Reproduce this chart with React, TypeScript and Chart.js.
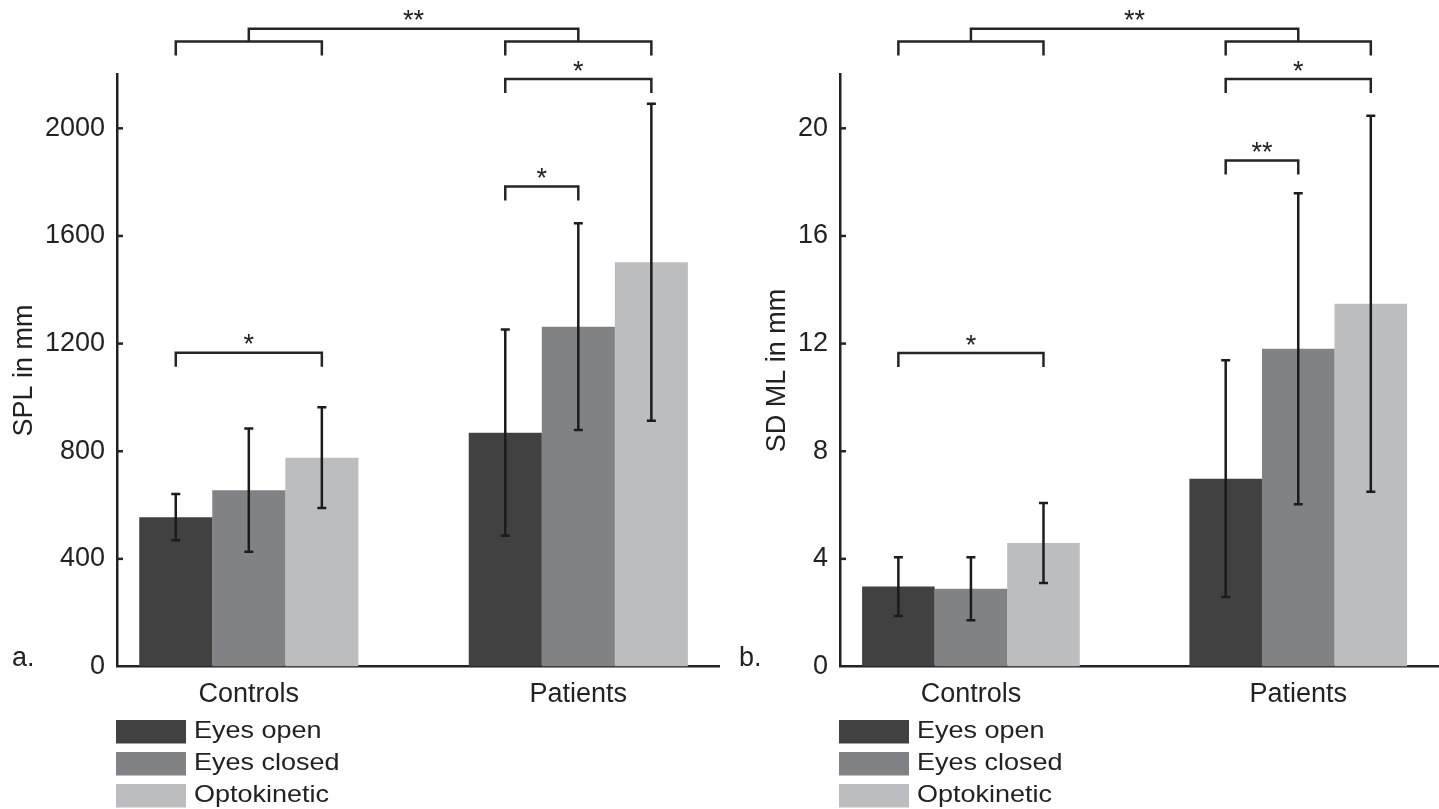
import React, { useEffect, useRef } from 'react';
import { Chart, registerables } from 'chart.js';

Chart.register(...registerables);

const FONT = "'Liberation Sans', Arial, Helvetica, sans-serif";
const INK = '#222222';

const categories = ['Controls', 'Patients'];
const seriesNames = ['Eyes open', 'Eyes closed', 'Optokinetic'];
const seriesColors = ['#414141', '#818285', '#bcbdc0'];

// Panel a: SPL in mm
const splEyesOpen = [555, 869];
const splEyesClosed = [655, 1263];
const splOptokinetic = [776, 1502];
const splErrEyesOpen = [86, 383];
const splErrEyesClosed = [229, 384];
const splErrOptokinetic = [187, 589];
const splTicks = [0, 400, 800, 1200, 1600, 2000];
// significance brackets: group, series from, series to, level (data units), label
const splBrackets = [
  { g: 0, s1: 0, s2: 2, level: 1166, label: '*' },
  { g: 1, s1: 0, s2: 1, level: 1784, label: '*' },
  { g: 1, s1: 0, s2: 2, level: 2183, label: '*' },
];
const splGroupBracket = { sub: 2323, top: 2370, label: '**' };

// Panel b: SD ML in mm
const sdEyesOpen = [2.97, 6.98];
const sdEyesClosed = [2.89, 11.81];
const sdOptokinetic = [4.59, 13.48];
const sdErrEyesOpen = [1.09, 4.4];
const sdErrEyesClosed = [1.17, 5.78];
const sdErrOptokinetic = [1.49, 6.99];
const sdTicks = [0, 4, 8, 12, 16, 20];
const sdBrackets = [
  { g: 0, s1: 0, s2: 2, level: 11.65, label: '*' },
  { g: 1, s1: 0, s2: 1, level: 18.8, label: '**' },
  { g: 1, s1: 0, s2: 2, level: 21.83, label: '*' },
];
const sdGroupBracket = { sub: 23.23, top: 23.7, label: '**' };

type Bracket = { g: number; s1: number; s2: number; level: number; label: string };
type Panel = {
  letter: string;
  yTitle: string;
  yMax: number;
  ticks: number[];
  means: number[][];
  errs: number[][];
  brackets: Bracket[];
  groupBracket: { sub: number; top: number; label: string };
  axisWidth: number;
  titlePad: number;
  letterX: number;
};

const panelA: Panel = {
  letter: 'a.',
  yTitle: 'SPL in mm',
  yMax: 2200,
  ticks: splTicks,
  means: [splEyesOpen, splEyesClosed, splOptokinetic],
  errs: [splErrEyesOpen, splErrEyesClosed, splErrOptokinetic],
  brackets: splBrackets,
  groupBracket: splGroupBracket,
  axisWidth: 117,
  titlePad: 8,
  letterX: 12,
};

const panelB: Panel = {
  letter: 'b.',
  yTitle: 'SD ML in mm',
  yMax: 22,
  ticks: sdTicks,
  means: [sdEyesOpen, sdEyesClosed, sdOptokinetic],
  errs: [sdErrEyesOpen, sdErrEyesClosed, sdErrOptokinetic],
  brackets: sdBrackets,
  groupBracket: sdGroupBracket,
  axisWidth: 120,
  titlePad: 41,
  letterX: 19,
};

const DROP = 14;

function makeAnnotations(panel: Panel) {
  return {
    id: 'annotations',
    afterDatasetsDraw(chart: any) {
      const { ctx } = chart;
      const yScale = chart.scales.y;
      const xOf = (g: number, s: number) => chart.getDatasetMeta(s).data[g].x;
      ctx.save();
      ctx.strokeStyle = '#1c1c1c';
      ctx.lineWidth = 2.5;
      ctx.lineCap = 'butt';
      panel.means.forEach((vals, s) => {
        vals.forEach((v, g) => {
          const x = xOf(g, s);
          const e = panel.errs[s][g];
          const t = yScale.getPixelForValue(v + e);
          const b = yScale.getPixelForValue(v - e);
          ctx.beginPath();
          ctx.moveTo(x, t);
          ctx.lineTo(x, b);
          ctx.moveTo(x - 4.5, t);
          ctx.lineTo(x + 4.5, t);
          ctx.moveTo(x - 4.5, b);
          ctx.lineTo(x + 4.5, b);
          ctx.stroke();
        });
      });
      ctx.restore();
    },
    afterDraw(chart: any) {
      const { ctx, chartArea } = chart;
      const yScale = chart.scales.y;
      const xOf = (g: number, s: number) => chart.getDatasetMeta(s).data[g].x;
      ctx.save();
      ctx.strokeStyle = '#252525';
      ctx.fillStyle = INK;
      ctx.lineWidth = 2.5;
      ctx.lineJoin = 'miter';
      ctx.lineCap = 'butt';
      ctx.font = `27px ${FONT}`;
      ctx.textAlign = 'center';
      ctx.textBaseline = 'alphabetic';

      // y tick stubs (inside)
      yScale.ticks.forEach((t: any) => {
        if (t.value === 0) return;
        const py = yScale.getPixelForValue(t.value);
        ctx.beginPath();
        ctx.moveTo(chartArea.left, py);
        ctx.lineTo(chartArea.left + 6, py);
        ctx.stroke();
      });

      const bracket = (x1: number, x2: number, ly: number) => {
        ctx.beginPath();
        ctx.moveTo(x1, ly + DROP);
        ctx.lineTo(x1, ly);
        ctx.lineTo(x2, ly);
        ctx.lineTo(x2, ly + DROP);
        ctx.stroke();
      };

      panel.brackets.forEach((b) => {
        const x1 = xOf(b.g, b.s1);
        const x2 = xOf(b.g, b.s2);
        const ly = yScale.getPixelForValue(b.level);
        bracket(x1, x2, ly);
        ctx.fillText(b.label, (x1 + x2) / 2, ly + 0.5);
      });

      const gb = panel.groupBracket;
      const ys = yScale.getPixelForValue(gb.sub);
      const yt = yScale.getPixelForValue(gb.top);
      const mids = categories.map((_, g) => {
        const a = xOf(g, 0);
        const c = xOf(g, seriesNames.length - 1);
        bracket(a, c, ys);
        return (a + c) / 2;
      });
      ctx.beginPath();
      ctx.moveTo(mids[0], ys);
      ctx.lineTo(mids[0], yt);
      ctx.lineTo(mids[1], yt);
      ctx.lineTo(mids[1], ys);
      ctx.stroke();
      ctx.fillText(gb.label, (mids[0] + mids[1]) / 2, yt + 0.5);

      // panel letter
      ctx.textAlign = 'left';
      ctx.fillText(panel.letter, panel.letterX, chartArea.bottom - 0.5);

      // legend
      chart.data.datasets.forEach((ds: any, i: number) => {
        const top = chartArea.bottom + 53.5 + i * 32;
        const lx = chartArea.left - 1;
        ctx.fillStyle = ds.backgroundColor;
        ctx.fillRect(lx, top, 70, 23.5);
        ctx.fillStyle = INK;
        ctx.save();
        ctx.translate(lx + 78, top + 11.75);
        ctx.scale(1, 0.86);
        ctx.textAlign = 'left';
        ctx.textBaseline = 'middle';
        ctx.fillText(ds.label, 0, 0);
        ctx.restore();
      });
      ctx.restore();
    },
  };
}

function PanelChart({ panel, left, width }: { panel: Panel; left: number; width: number }) {
  const ref = useRef<HTMLCanvasElement | null>(null);
  useEffect(() => {
    const canvas = ref.current;
    if (!canvas) return;
    const chart = new Chart(canvas, {
      type: 'bar',
      data: {
        datasets: seriesNames.map((name, s) => ({
          label: name,
          data: panel.means[s].map((v, g) => ({ x: g + 1, y: v })),
          backgroundColor: seriesColors[s],
          borderWidth: 0,
          categoryPercentage: 0.665,
          barPercentage: 1,
        })),
      },
      options: {
        responsive: false,
        animation: false,
        devicePixelRatio: 1,
        layout: { padding: { top: 74.5, left: 0, right: 0, bottom: 0 } },
        plugins: { legend: { display: false }, tooltip: { enabled: false } },
        scales: {
          x: {
            type: 'linear',
            min: 0.6,
            max: 2.43,
            offset: false,
            grid: { display: false, drawTicks: false },
            border: { display: true, color: INK, width: 2.5 },
            ticks: {
              font: { family: FONT, size: 27 },
              color: INK,
              padding: 12,
              maxRotation: 0,
              autoSkip: false,
              callback: (v: any) => categories[Math.round(Number(v)) - 1] ?? '',
            },
            afterBuildTicks: (s: any) => {
              s.ticks = categories.map((_, i) => ({ value: i + 1 }));
            },
            afterFit: (s: any) => {
              s.height = 142.5;
            },
          },
          y: {
            type: 'linear',
            min: 0,
            max: panel.yMax,
            grid: { display: false, drawTicks: false },
            border: { display: true, color: INK, width: 2.5 },
            ticks: {
              font: { family: FONT, size: 27 },
              color: INK,
              padding: 12,
              callback: (v: any) => String(v),
            },
            afterBuildTicks: (s: any) => {
              s.ticks = panel.ticks.map((v) => ({ value: v }));
            },
            afterFit: (s: any) => {
              s.width = panel.axisWidth;
            },
            title: {
              display: true,
              text: panel.yTitle,
              font: { family: FONT, size: 27 },
              color: INK,
              padding: { top: panel.titlePad, bottom: 0 },
            },
          },
        },
      } as any,
      plugins: [makeAnnotations(panel)],
    } as any);
    return () => chart.destroy();
  }, [panel]);
  return (
    <canvas
      ref={ref}
      width={width}
      height={809}
      style={{ position: 'absolute', left, top: 0, width, height: 809, display: 'block' }}
    />
  );
}

export default function App() {
  return (
    <div style={{ position: 'absolute', left: 0, top: 0, width: 1439, height: 809, background: '#ffffff', overflow: 'hidden' }}>
      <PanelChart panel={panelA} left={0} width={720} />
      <PanelChart panel={panelB} left={720} width={719} />
    </div>
  );
}
